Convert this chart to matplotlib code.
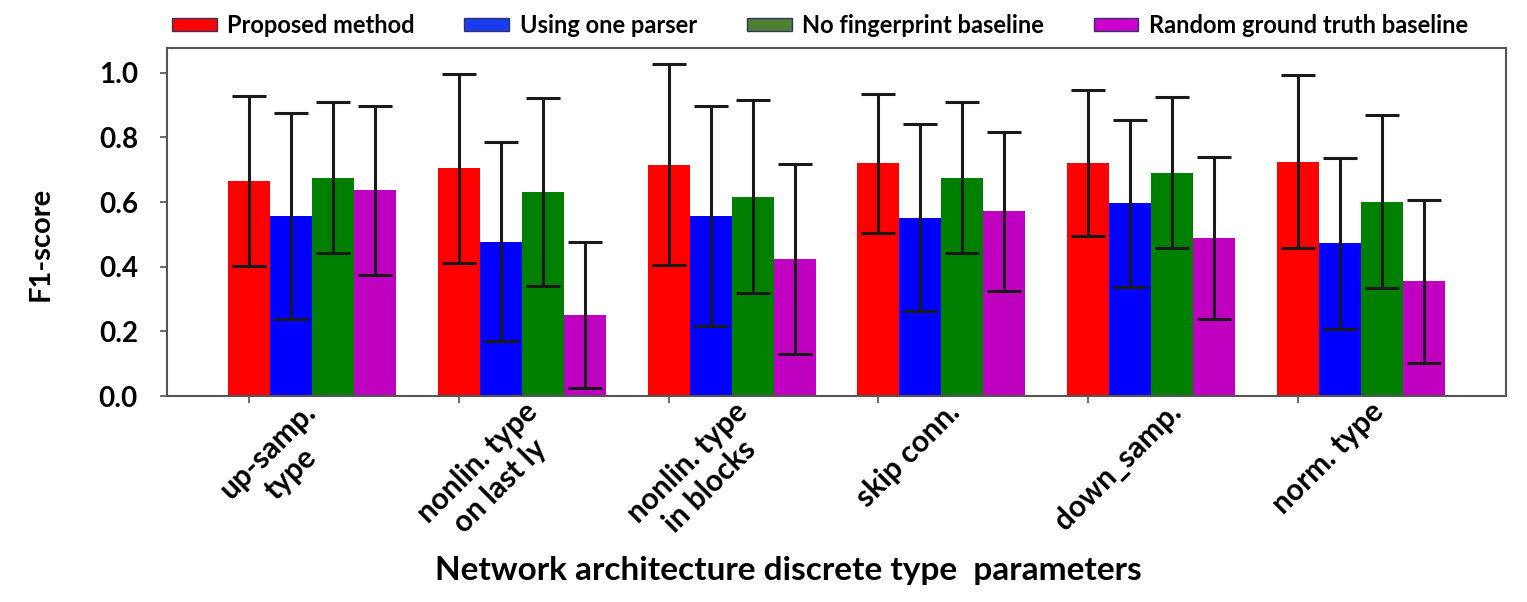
import matplotlib
matplotlib.use("Agg")

import matplotlib.pyplot as plt
import matplotlib.patches as mpatches
import matplotlib.transforms as mtransforms
import numpy as np

plt.rcParams["font.family"] = ["Lato", "DejaVu Sans"]
plt.rcParams["font.weight"] = "bold"

# ── data ────────────────────────────────────────────────────────────
categories = [
    "up-samp.\ntype",
    "nonlin. type\non last ly",
    "nonlin. type\nin blocks",
    "skip conn.",
    "down_samp.",
    "norm. type",
]
series_names = [
    "Proposed method",
    "Using one parser",
    "No fingerprint baseline",
    "Random ground truth baseline",
]
proposed = [0.665, 0.705, 0.716, 0.720, 0.720, 0.725]
proposed_err = [0.262, 0.292, 0.312, 0.215, 0.226, 0.268]
one_parser = [0.557, 0.478, 0.557, 0.552, 0.596, 0.472]
one_parser_err = [0.317, 0.308, 0.339, 0.289, 0.258, 0.265]
no_fingerprint = [0.676, 0.631, 0.617, 0.676, 0.691, 0.601]
no_fingerprint_err = [0.233, 0.290, 0.298, 0.233, 0.233, 0.267]
random_gt = [0.636, 0.250, 0.423, 0.571, 0.488, 0.355]
random_gt_err = [0.262, 0.226, 0.294, 0.245, 0.250, 0.252]

bar_colors = ["#ff0000", "#0000ff", "#008000", "#c000c0"]
legend_colors = ["#ff0000", "#1a3cf0", "#4f7f30", "#cc00cc"]

# ── figure ──────────────────────────────────────────────────────────
fig = plt.figure(figsize=(15.27, 6.02), dpi=100)
ax = fig.add_axes([0.1094, 0.342, 0.8768, 0.578])

x = np.arange(len(categories))
width = 0.2
all_vals = [proposed, one_parser, no_fingerprint, random_gt]
all_errs = [proposed_err, one_parser_err, no_fingerprint_err, random_gt_err]

for i, (vals, errs) in enumerate(zip(all_vals, all_errs)):
    ax.bar(x + i * width, vals, width, color=bar_colors[i], zorder=2)
    ax.errorbar(x + i * width, vals, yerr=errs, fmt="none", ecolor="#1a1a1a",
                elinewidth=2.2, capsize=12, capthick=2.2, zorder=3)

ax.set_xlim(-0.39, 5.99)
ax.set_ylim(0, 1.076)
ax.set_yticks([0.0, 0.2, 0.4, 0.6, 0.8, 1.0])
ax.set_yticklabels(["0.0", "0.2", "0.4", "0.6", "0.8", "1.0"], fontsize=20, fontweight="bold")
ax.set_xticks(x)
ax.set_xticklabels(categories, rotation=45, ha="center", fontsize=21.5,
                   fontweight="bold", multialignment="center")
ax.tick_params(axis="both", direction="out", length=5, color="#555555", width=1.2)
ax.tick_params(axis="y", pad=16)
ax.tick_params(axis="x", pad=-4)

# labels sit a bit right of their ticks in the original
shift = mtransforms.ScaledTranslation(30 / 100, 0, fig.dpi_scale_trans)
for lbl in ax.get_xticklabels():
    lbl.set_transform(lbl.get_transform() + shift)

for sp in ax.spines.values():
    sp.set_color("#555555")
    sp.set_linewidth(1.5)

ax.set_ylabel("F1-score", fontsize=21, fontweight="bold")
ax.yaxis.set_label_coords(-0.085, 0.437)
ax.set_xlabel("Network architecture discrete type  parameters", fontsize=24,
              fontweight="bold")
ax.xaxis.set_label_coords(0.464, -0.46)

# ── legend ──────────────────────────────────────────────────────────
handles = [
    mpatches.FancyBboxPatch((0, 0), 1, 1, boxstyle="round,pad=0.1",
                            facecolor=c, edgecolor="#333366", linewidth=1)
    for c in legend_colors
]
fig.legend(handles, series_names, loc="center", bbox_to_anchor=(0.537, 0.958),
           ncol=4, frameon=False, prop={"size": 17, "weight": "bold"},
           handlelength=1.9, handleheight=0.5, columnspacing=2.1, handletextpad=0.45,
           borderaxespad=0.0, borderpad=0.0)

fig.savefig("out.png", dpi=100, facecolor="white")
